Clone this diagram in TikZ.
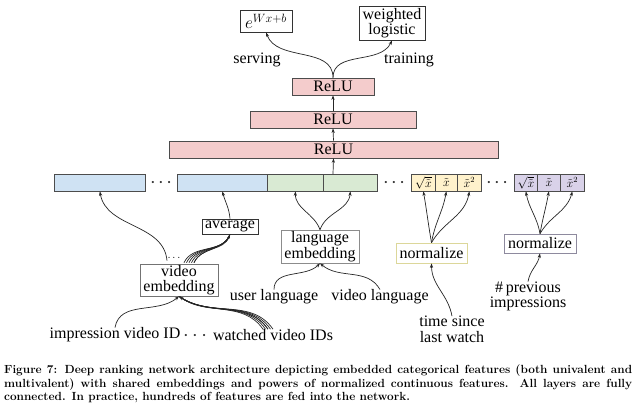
\documentclass[tikz,border=0pt]{standalone}
\usepackage{fontspec}
\setmainfont{Liberation Serif}
\newfontfamily\capfont{Latin Modern Roman}
\usetikzlibrary{arrows.meta}
\definecolor{reluf}{HTML}{F4CCCC}
\definecolor{bluef}{HTML}{CFE2F3}
\definecolor{greenf}{HTML}{D9EAD3}
\definecolor{yellowf}{HTML}{FFF2CC}
\definecolor{purplef}{HTML}{D9D2E9}
\definecolor{ydraw}{HTML}{DCD79A}
\definecolor{pdraw}{HTML}{8E8A9E}
\begin{document}
\begin{tikzpicture}[x=1pt,y=1pt,
  every node/.style={font=\fontsize{16}{15.5}\selectfont, inner sep=0pt, align=center},
  arr/.style={-{Stealth[length=4.5pt,width=3.2pt]}, line width=0.7pt, black!85},
  ln/.style={line width=0.7pt, black!85},
  cell/.style={draw=black!70, line width=0.7pt, minimum height=17pt, anchor=west, font=\fontsize{11.5}{11.5}\selectfont},
  relu/.style={draw=black!70, line width=0.7pt, fill=reluf, minimum height=17pt},
  box/.style={draw=black!80, line width=0.7pt},
  dotsx/.style={font=\fontsize{9}{9}\selectfont, text=black!80}
]
\useasboundingbox (0,0) rectangle (640,-403);
\fill[white] (0,0) rectangle (640,-403);

% top outputs
\node[box, minimum width=52pt, minimum height=22pt, font=\fontsize{18}{18}\selectfont] (ewx) at (266,-21) {$e^{Wx+b}$};
\node[box, minimum width=66pt, minimum height=34pt] (wl) at (392,-23) {weighted\\logistic};
\node (serv) at (257,-60) {serving};
\node (train) at (409,-60) {training};

% ReLU layers
\node[relu, minimum width=82pt] (r1) at (333,-86.5) {ReLU};
\node[relu, minimum width=166pt] (r2) at (333,-119.5) {ReLU};
\node[relu, minimum width=329pt] (r3) at (333.5,-149.5) {ReLU};

% bottom layer
\node[cell, fill=bluef, minimum width=91pt] (b1) at (54,-182.5) {};
\node[cell, fill=bluef, minimum width=90pt] (b2) at (177,-182.5) {};
\node[cell, fill=greenf, minimum width=56pt] (g1) at (267,-182.5) {};
\node[cell, fill=greenf, minimum width=54pt] (g2) at (323,-182.5) {};
\node[cell, fill=yellowf, minimum width=24pt] (y1) at (411,-182.5) {$\sqrt{\tilde{x}}$};
\node[cell, fill=yellowf, minimum width=22pt] (y2) at (435,-182.5) {$\tilde{x}$};
\node[cell, fill=yellowf, minimum width=24pt] (y3) at (457,-182.5) {$\tilde{x}^2$};
\node[cell, fill=purplef, minimum width=23pt] (p1) at (514,-182.5) {$\sqrt{\tilde{x}}$};
\node[cell, fill=purplef, minimum width=23pt] (p2) at (537,-182.5) {$\tilde{x}$};
\node[cell, fill=purplef, minimum width=24pt] (p3) at (560,-182.5) {$\tilde{x}^2$};
\node[dotsx] (d1) at (161,-183) {\textbullet\hspace{5pt}\textbullet\hspace{5pt}\textbullet};
\node[dotsx] (d2) at (394,-183) {\textbullet\hspace{5pt}\textbullet\hspace{5pt}\textbullet};
\node[dotsx] (d3) at (497,-183) {\textbullet\hspace{5pt}\textbullet\hspace{5pt}\textbullet};
\coordinate (lin) at (333,-174);

% stack arrows
\draw[arr] (lin) -- (r3.south);
\draw[arr] (r3.north) -- (r2.south);
\draw[arr] (r2.north) -- (r1.south);
\draw[arr] (r1.north) to[out=90,in=-70] (ewx.south);
\draw[arr] (r1.north) to[out=90,in=-115] (wl.south);

% video part
\node[box, draw=black!55, minimum width=78pt, minimum height=32pt] (ve) at (179,-280) {video\\embedding};
\node[box, minimum width=56pt, minimum height=15pt] (avg) at (230,-226.5) {average};
\node[font=\fontsize{11}{11}\selectfont] (vdots) at (174,-258) {$\ldots$};
\draw[arr] ([xshift=-12pt,yshift=3pt]ve.north) to[out=95,in=-80] (b1.south);
\draw[arr] (avg.north) to[out=95,in=-75] (b2.south);
\foreach \dx in {5,7.5,10,12.5,15}{
  \draw[ln] ([xshift=\dx pt,yshift=1pt]ve.north) to[out=65,in=-110] (avg.south);
}
\draw[arr] ([xshift=15pt,yshift=1pt]ve.north) to[out=65,in=-110] (avg.south);

\node (imp) at (115,-335) {impression video ID};
\node[dotsx] (d4) at (195,-336) {\textbullet\hspace{6pt}\textbullet\hspace{6pt}\textbullet};
\node (wat) at (273,-335) {watched video IDs};
\draw[arr] (imp.north) to[out=80,in=-140] (ve.south);
\foreach \dx in {-10,-7.5,-5,-2.5,0}{
  \draw[ln] ([xshift=\dx pt]wat.north) to[out=125,in=-35] (ve.south);
}
\draw[arr] ([xshift=-5pt]wat.north) to[out=125,in=-35] (ve.south);

% language part
\node[box, draw=black!45, minimum width=78pt, minimum height=33pt] (le) at (320,-246.5) {language\\embedding};
\draw[arr] (le.north) to[out=110,in=-90] (g1.south);
\draw[arr] (le.north) to[out=70,in=-95] (g2.south);
\node (ul) at (274,-297) {user language};
\node (vl) at (380,-297) {video language};
\draw[arr] (ul.north) to[out=90,in=-135] (le.south);
\draw[arr] (vl.north) to[out=120,in=-40] (le.south);

% time since last watch
\node[box, draw=ydraw, minimum width=71pt, minimum height=20pt] (n1) at (431.5,-253) {normalize};
\draw[arr] (n1.north) to[out=100,in=-80] (y1.south);
\draw[arr] (n1.north) to[out=80,in=-100] (y2.south);
\draw[arr] (n1.north) to[out=60,in=-100] (y3.south);
\node (ts) at (452,-329.5) {time since\\last watch};
\draw[arr] (ts.north) to[out=100,in=-90] (n1.south);

% previous impressions
\node[box, draw=pdraw, minimum width=72pt, minimum height=19pt] (n2) at (540,-243.5) {normalize};
\draw[arr] (n2.north) to[out=100,in=-80] (p1.south);
\draw[arr] (n2.north) to[out=80,in=-100] (p2.south);
\draw[arr] (n2.north) to[out=60,in=-105] (p3.south);
\node (pi) at (528,-296.5) {\#\,previous\\impressions};
\draw[arr] (pi.north) to[out=80,in=-100] (n2.south);

% caption
\node[anchor=north west, text width=628pt, align=justify,
      font=\capfont\bfseries\fontsize{11.8}{13.5}\selectfont] (cap) at (4,-364.5)
{Figure 7: Deep ranking network architecture depicting embedded categorical features (both univalent and\linebreak
multivalent) with shared embeddings and powers of normalized continuous features.  All layers are fully\linebreak
connected. In practice, hundreds of features are fed into the network.};
\end{tikzpicture}
\end{document}
